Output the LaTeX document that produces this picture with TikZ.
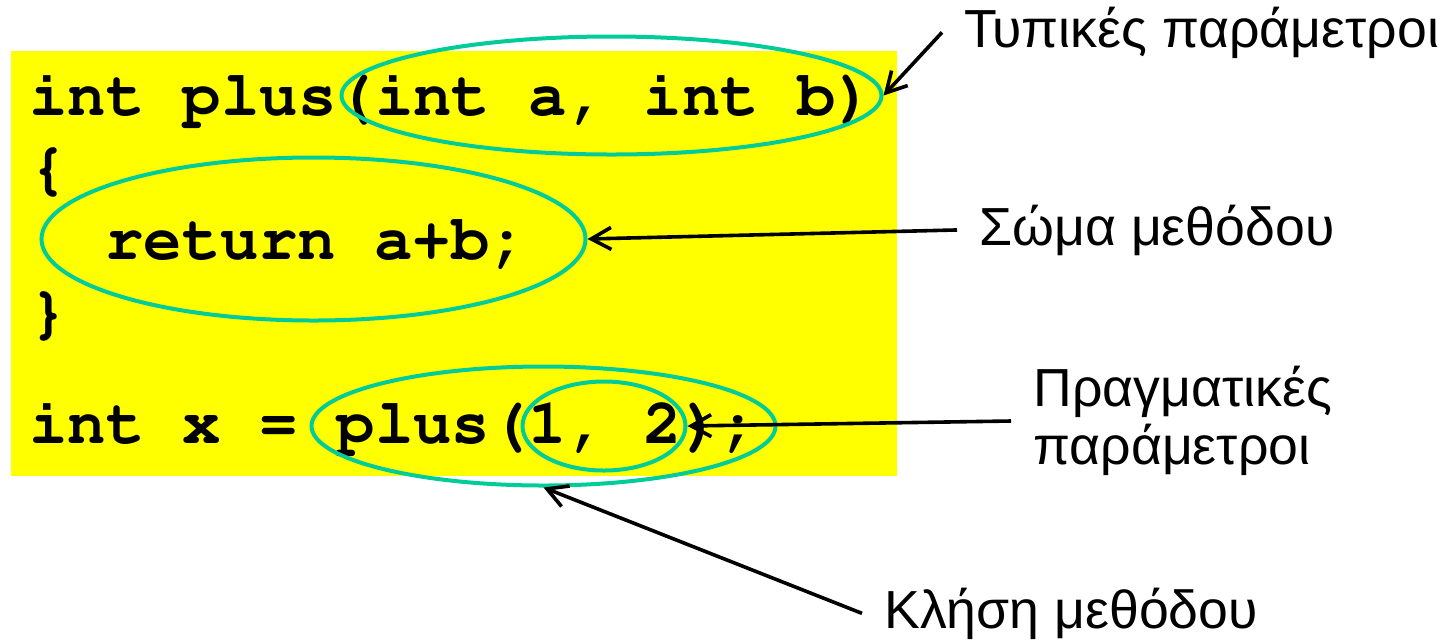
\documentclass[tikz,border=0pt]{standalone}
\usepackage[T1]{fontenc}
\usepackage{fontspec}
\setmainfont{Liberation Sans}
\newcommand\codefont{\fontencoding{T1}\fontfamily{pcr}\fontseries{b}\selectfont}
\usetikzlibrary{shapes.geometric, arrows.meta}

\definecolor{hilite}{RGB}{0,204,153}
\definecolor{codebg}{RGB}{255,255,0}

\begin{document}
\begin{tikzpicture}[
  x=0.5pt, y=-0.5pt,
  codeline/.style={anchor=base west, inner sep=0pt, font=\codefont\fontsize{32}{36}\selectfont},
  circ/.style={ellipse, draw=hilite, line width=2pt, inner sep=0pt},
  lbl/.style={inner xsep=11pt, inner ysep=0pt, font=\fontsize{26.8}{29}\selectfont, align=left},
  pointer/.style={-{Straight Barb[length=10pt, width=11pt]}, line width=1.8pt}
]

\useasboundingbox (0,0) rectangle (1450,639);

% -------------------------
% Code box
% -------------------------

\fill[codebg] (11,51) rectangle (897,476);

\node[codeline] (code1) at (29,115) {int plus(int a, int b)};
\node[codeline] (code2) at (29,187) {\{};
\node[codeline] (code3) at (105,259) {return a+b;};
\node[codeline] (code4) at (29,331) {\}};
\node[codeline] (code5) at (29,443) {int x = plus(1, 2);};

% -------------------------
% Ellipses round the parts
% -------------------------

\node[circ, minimum width=270pt, minimum height=59pt] (epar) at (611.5,95.5) {};
\node[circ, minimum width=272pt, minimum height=81.5pt] (ebody) at (313.5,239) {};
\node[circ, minimum width=232pt, minimum height=59.5pt] (ecall) at (543.5,426) {};
\node[circ, minimum width=81.5pt, minimum height=44.5pt] (eargs) at (604,426) {};

% -------------------------
% Labels and pointers
% -------------------------

\node[lbl, anchor=base west] (lformal) at (942,47) {Τυπικές παράμετροι};
\node[lbl, anchor=base west] (lbody) at (957,245) {Σώμα μεθόδου};
\node[lbl, anchor=west] (lactual) at (1011,421) {Πραγματικές\\παράμετροι};
\node[lbl, anchor=base west] (lcall) at (862,628) {Κλήση μεθόδου};

\draw[pointer] (lformal.west) -- (epar.east);
\draw[pointer] (lbody.west) -- (ebody.east);
\draw[pointer] (lactual.west) -- (eargs.east);
\draw[pointer] (lcall.west) -- (ecall.south);

\end{tikzpicture}
\end{document}
